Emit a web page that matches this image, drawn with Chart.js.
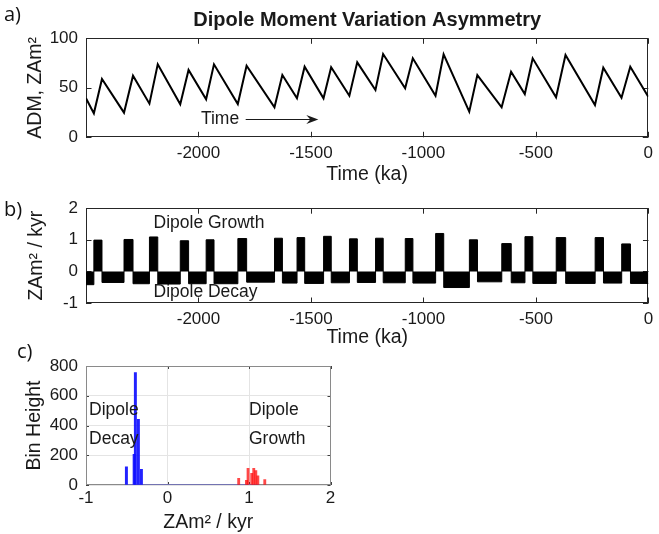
<!DOCTYPE html>
<html>
<head>
<meta charset="utf-8">
<title>Dipole Moment Variation Asymmetry</title>
<script src="https://cdn.jsdelivr.net/npm/chart.js@4.4.1/dist/chart.umd.min.js"></script>
<style>
  html, body { margin: 0; padding: 0; background: #ffffff; }
  #fig { position: relative; width: 659px; height: 534px; overflow: hidden; background: #ffffff; }
  #fig canvas { position: absolute; }
  .tag { position: absolute; font-family: "Open Sans", "Noto Sans", sans-serif; font-size: 20px; line-height: 1; color: #111; }
</style>
</head>
<body>
<div id="fig">
  <canvas id="panelA" width="659" height="190" style="left:0;top:0"></canvas>
  <canvas id="panelB" width="659" height="165" style="left:0;top:190px"></canvas>
  <canvas id="panelC" width="340" height="194" style="left:0;top:340px"></canvas>
  <div class="tag" style="left:4px;top:4px">a)</div>
  <div class="tag" style="left:4px;top:199px">b)</div>
  <div class="tag" style="left:17px;top:341px">c)</div>
</div>
<script>
// ---- (a) axial dipole moment: turning points of the sawtooth record ----
const turnTimes = [-2500, -2465, -2429, -2331, -2291, -2218, -2181, -2081, -2044, -1966,
                   -1931, -1825, -1786, -1662, -1627, -1562, -1528, -1444, -1410, -1329,
                   -1294, -1213, -1179, -1081, -1047, -946, -910, -796, -760, -652,
                   -610, -549, -514, -410, -368, -237, -200, -119, -80, 0];
const admValues = [39.4, 24.2, 58.9, 24.9, 62.2, 34.0, 73.7, 33.3, 68.0, 38.4,
                   73.7, 33.6, 72.3, 30.3, 62.9, 39.4, 71.3, 39.4, 70.7, 42.0,
                   75.7, 47.8, 84.1, 49.5, 79.8, 42.0, 83.8, 25.9, 62.9, 30.3,
                   66.3, 43.7, 79.8, 40.4, 83.1, 32.6, 70.3, 40.0, 71.3, 41.0];

// ---- (b) rate of change on each rising / falling stretch (ZAm^2 per kyr) ----
const decayRates  = [-0.42, -0.35, -0.39, -0.40, -0.39, -0.39, -0.34, -0.37, -0.38, -0.36,
                     -0.35, -0.36, -0.37, -0.51, -0.33, -0.36, -0.38, -0.38, -0.37, -0.38];
const growthRates = [0.99, 1.01, 1.09, 0.97, 1.00, 1.04, 1.05, 1.07, 1.11, 1.03,
                     1.05, 1.04, 1.20, 1.00, 0.88, 1.10, 1.07, 1.07, 0.87];

// ---- (c) histograms of the rates ----
const decayBinCenters  = [-0.49, -0.395, -0.38, -0.343, -0.306];
const decayBinHeights  = [122, 206, 755, 441, 105];
const growthBinCenters = [0.86, 0.955, 0.975, 1.02, 1.045, 1.07, 1.095, 1.18];
const growthBinHeights = [45, 32, 112, 79, 112, 97, 62, 36];
const decayBinRange    = [-0.49, 1.12];

// ---- tick labels ----
const timeTicks  = [-2000, -1500, -1000, -500, 0];
const admTicks   = [0, 50, 100];
const rateTicks  = [-1, 0, 1, 2];
const binTicks   = [-1, 0, 1, 2];
const countTicks = [0, 200, 400, 600, 800];

// ---------------------------------------------------------------------------
const FAMILY = "'Liberation Sans', Arial, Helvetica, sans-serif";
const INK = '#1a1a1a';
const tickFont  = { family: FAMILY, size: 17, lineHeight: 1.2 };
const labelFont = { family: FAMILY, size: 19.5, lineHeight: 1.2 };

Chart.defaults.font.family = FAMILY;
Chart.defaults.color = INK;

function fixedTicks(values) {
  return s => { s.ticks = values.map(v => ({ value: v })); };
}

function hAxis(o) {
  return {
    type: 'linear', position: 'bottom', min: o.min, max: o.max, offset: false,
    afterBuildTicks: fixedTicks(o.ticks),
    afterFit: s => { s.height = o.height; },
    grid: o.grid ? { display: true, drawOnChartArea: true, drawTicks: false, color: o.grid, lineWidth: 1, offset: false }
                 : { display: false, drawTicks: false, offset: false },
    border: { display: false },
    ticks: { font: tickFont, color: INK, padding: o.tickPad, maxRotation: 0, autoSkip: false,
             callback: v => String(v) },
    title: { display: true, text: o.title, font: labelFont, color: INK,
             padding: { top: 0, bottom: o.titlePad } }
  };
}

function vAxis(o) {
  return {
    type: 'linear', position: 'left', min: o.min, max: o.max,
    afterBuildTicks: fixedTicks(o.ticks),
    afterFit: s => { s.width = 86; },
    grid: o.grid ? { display: true, drawOnChartArea: true, drawTicks: false, color: o.grid, lineWidth: 1 }
                 : { display: false, drawTicks: false },
    border: { display: false },
    ticks: { font: tickFont, color: INK, padding: 8, autoSkip: false, callback: v => String(v) },
    title: { display: true, text: o.title, font: labelFont, color: INK,
             padding: { top: o.titleX - 11.7, bottom: 0 } }
  };
}

// Axes box with short inward tick marks on all four sides (drawn under the data)
const framePlugin = {
  id: 'frame',
  beforeDatasetsDraw(chart, args, opts) {
    const { ctx, chartArea: a, scales: { x, y } } = chart;
    const L = opts.tickLen;
    ctx.save();
    ctx.strokeStyle = opts.color;
    ctx.lineWidth = 1;
    ctx.beginPath();
    x.ticks.forEach(t => {
      const px = Math.round(x.getPixelForValue(t.value)) + 0.5;
      ctx.moveTo(px, a.bottom); ctx.lineTo(px, a.bottom - L);
      ctx.moveTo(px, a.top);    ctx.lineTo(px, a.top + L);
    });
    y.ticks.forEach(t => {
      const py = Math.round(y.getPixelForValue(t.value)) + 0.5;
      ctx.moveTo(a.left, py);  ctx.lineTo(a.left + L, py);
      ctx.moveTo(a.right, py); ctx.lineTo(a.right - L, py);
    });
    ctx.stroke();
    ctx.strokeStyle = opts.boxColor || opts.color;
    ctx.strokeRect(Math.round(a.left) + 0.5, Math.round(a.top) + 0.5,
                   Math.round(a.right) - Math.round(a.left) - 1, Math.round(a.bottom) - Math.round(a.top) - 1);
    ctx.restore();
  }
};

// Text notes (and the arrow of panel a) placed in data coordinates
const notesPlugin = {
  id: 'notes',
  afterDatasetsDraw(chart, args, opts) {
    const { ctx, scales: { x, y } } = chart;
    ctx.save();
    ctx.fillStyle = INK;
    ctx.textBaseline = 'middle';
    ctx.textAlign = 'left';
    (opts.items || []).forEach(n => {
      ctx.font = `${n.size}px ${FAMILY}`;
      ctx.fillText(n.text, x.getPixelForValue(n.x), y.getPixelForValue(n.y));
    });
    if (opts.arrow) {
      const ar = opts.arrow;
      const x0 = x.getPixelForValue(ar.from), x1 = x.getPixelForValue(ar.to);
      const py = Math.round(y.getPixelForValue(ar.y)) + 0.5;
      ctx.strokeStyle = INK;
      ctx.lineWidth = 1.2;
      ctx.beginPath();
      ctx.moveTo(x0, py); ctx.lineTo(x1 - 6, py);
      ctx.stroke();
      ctx.beginPath();
      ctx.moveTo(x1, py);
      ctx.lineTo(x1 - 12, py - 4.5);
      ctx.lineTo(x1 - 8, py);
      ctx.lineTo(x1 - 12, py + 4.5);
      ctx.closePath();
      ctx.fill();
    }
    ctx.restore();
  }
};

const common = {
  responsive: false,
  maintainAspectRatio: false,
  devicePixelRatio: 1,
  animation: false,
  events: []
};

// ---------------- panel a ----------------
const admPoints = turnTimes.map((t, i) => ({ x: t, y: admValues[i] }));

new Chart(document.getElementById('panelA'), {
  type: 'line',
  data: {
    datasets: [{
      data: admPoints,
      borderColor: '#000000',
      borderWidth: 2,
      pointRadius: 0,
      tension: 0,
      fill: false
    }]
  },
  options: Object.assign({}, common, {
    layout: { padding: { left: 0, right: 7, top: 0, bottom: 0 } },
    scales: {
      x: hAxis({ min: -2500, max: 0, ticks: timeTicks, height: 52.7, tickPad: 6, title: 'Time (ka)', titlePad: 3.3 }),
      y: vAxis({ min: 0, max: 100, ticks: admTicks, title: 'ADM, ZAm\u00B2', titleX: 36 })
    },
    plugins: {
      legend: { display: false },
      tooltip: { enabled: false },
      title: {
        display: true, fullSize: false,
        text: 'Dipole Moment Variation Asymmetry',
        color: INK,
        font: { family: FAMILY, size: 20, weight: 'bold', lineHeight: 1.2 },
        padding: { top: 8, bottom: 6.3 }
      },
      frame: { color: '#262626', tickLen: 5.5 },
      notes: {
        items: [{ text: 'Time', x: -1989, y: 18, size: 17.5 }],
        arrow: { from: -1790, to: -1467, y: 18 }
      }
    }
  }),
  plugins: [framePlugin, notesPlugin]
});

// ---------------- panel b ----------------
// one step per stretch: falling stretches hold a decay rate, rising ones a growth rate
const ratePoints = [];
for (let i = 0; i < turnTimes.length - 1; i++) {
  const r = (i % 2 === 0) ? decayRates[i / 2] : growthRates[(i - 1) / 2];
  ratePoints.push({ x: turnTimes[i], y: r });
}
ratePoints.push({ x: turnTimes[turnTimes.length - 1], y: decayRates[decayRates.length - 1] });

new Chart(document.getElementById('panelB'), {
  type: 'line',
  data: {
    datasets: [{
      data: ratePoints,
      stepped: true,
      borderColor: '#000000',
      borderWidth: 1,
      backgroundColor: '#000000',
      pointRadius: 0,
      fill: 'origin'
    }]
  },
  options: Object.assign({}, common, {
    layout: { padding: { left: 0, right: 7, top: 11.5, bottom: 0 } },
    scales: {
      x: hAxis({ min: -2500, max: 0, ticks: timeTicks, height: 52, tickPad: 5.8, title: 'Time (ka)', titlePad: 5.3 }),
      y: vAxis({ min: -1, max: 2, ticks: rateTicks, title: 'ZAm\u00B2 / kyr', titleX: 37 })
    },
    plugins: {
      legend: { display: false },
      tooltip: { enabled: false },
      frame: { color: '#262626', tickLen: 5.5 },
      notes: {
        items: [
          { text: 'Dipole Growth', x: -2200, y: 1.52, size: 17.5 },
          { text: 'Dipole Decay',  x: -2200, y: -0.65, size: 17.5 }
        ]
      }
    }
  }),
  plugins: [framePlugin, notesPlugin]
});

// ---------------- panel c ----------------
new Chart(document.getElementById('panelC'), {
  type: 'bar',
  data: {
    datasets: [
      {
        type: 'line',
        data: decayBinRange.map(v => ({ x: v, y: 0 })),
        borderColor: 'rgba(70, 70, 255, 0.45)',
        borderWidth: 1.5,
        pointRadius: 0,
        fill: false,
        order: 3
      },
      {
        data: growthBinCenters.map((c, i) => ({ x: c, y: growthBinHeights[i] })),
        backgroundColor: 'rgba(255, 0, 0, 0.72)',
        borderWidth: 0,
        barThickness: 2.2,
        order: 2
      },
      {
        data: decayBinCenters.map((c, i) => ({ x: c, y: decayBinHeights[i] })),
        backgroundColor: 'rgba(15, 15, 255, 0.92)',
        borderWidth: 0,
        barThickness: 2.3,
        order: 1
      }
    ]
  },
  options: Object.assign({}, common, {
    layout: { padding: { left: 0, right: 9.5, top: 26, bottom: 0 } },
    scales: {
      x: hAxis({ min: -1, max: 2, ticks: binTicks, height: 49, tickPad: 2.8, title: 'ZAm\u00B2 / kyr', titlePad: 0, grid: '#e4e4e4' }),
      y: vAxis({ min: 0, max: 800, ticks: countTicks, title: 'Bin Height', titleX: 35, grid: '#e4e4e4' })
    },
    plugins: {
      legend: { display: false },
      tooltip: { enabled: false },
      frame: { color: '#404040', boxColor: '#8a8a8a', tickLen: 3 },
      notes: {
        items: [
          { text: 'Dipole', x: -0.963, y: 504, size: 17.5 },
          { text: 'Decay',  x: -0.963, y: 306, size: 17.5 },
          { text: 'Dipole', x: 1.0,    y: 504, size: 17.5 },
          { text: 'Growth', x: 1.0,    y: 306, size: 17.5 }
        ]
      }
    }
  }),
  plugins: [framePlugin, notesPlugin]
});
</script>
</body>
</html>
